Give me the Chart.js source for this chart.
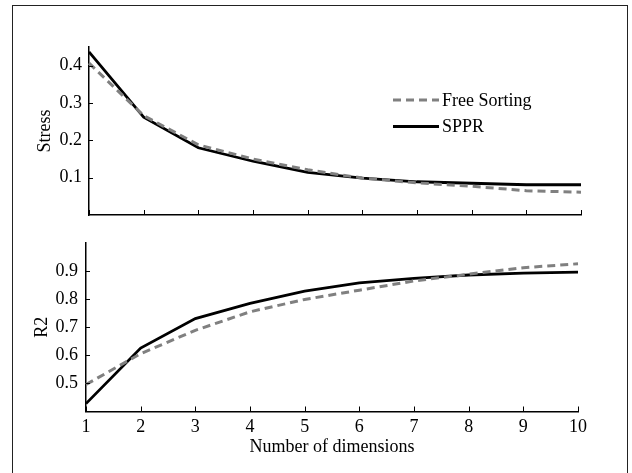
<!DOCTYPE html>
<html>
<head>
<meta charset="utf-8">
<script src="https://cdn.jsdelivr.net/npm/chart.js@4.4.1/dist/chart.umd.min.js"></script>
<style>
body { margin: 0; background: #fff; }
#wrap { position: relative; width: 632px; height: 473px; overflow: hidden; background: #fff; }
#frame { position: absolute; left: 12px; top: 5px; width: 614px; height: 480px; border: 1.5px solid #222; }
canvas { position: absolute; left: 0; }
#stressChart { top: 0; }
#r2Chart { top: 220px; }
</style>
</head>
<body>
<div id="wrap">
  <div id="frame"></div>
  <canvas id="stressChart" width="632" height="235"></canvas>
  <canvas id="r2Chart" width="632" height="253"></canvas>
</div>
<script>
// data
const dims = ['1', '2', '3', '4', '5', '6', '7', '8', '9', '10'];
const stressFree = [0.407, 0.266, 0.188, 0.150, 0.121, 0.099, 0.086, 0.077, 0.065, 0.061];
const stressSppr = [0.437, 0.262, 0.180, 0.144, 0.114, 0.099, 0.089, 0.085, 0.081, 0.081];
const r2Free = [0.496, 0.606, 0.689, 0.755, 0.799, 0.832, 0.865, 0.889, 0.912, 0.926];
const r2Sppr = [0.428, 0.626, 0.731, 0.785, 0.829, 0.858, 0.874, 0.886, 0.893, 0.896];
const stressTicks = [0.1, 0.2, 0.3, 0.4];
const r2Ticks = [0.5, 0.6, 0.7, 0.8, 0.9];

const serif = 'Liberation Serif';
const fontSize = 18;

// small tick marks pointing into the plot, like the original
const innerTicks = {
    id: 'innerTicks',
    afterDatasetsDraw(chart) {
        const ctx = chart.ctx;
        const xs = chart.scales.x;
        const ys = chart.scales.y;
        ctx.save();
        ctx.strokeStyle = '#000';
        ctx.lineWidth = 1;
        xs.ticks.forEach(function (t, i) {
            const px = Math.round(xs.getPixelForTick(i)) + 0.5;
            ctx.beginPath();
            ctx.moveTo(px, xs.top);
            ctx.lineTo(px, xs.top - 5);
            ctx.stroke();
        });
        ys.ticks.forEach(function (t) {
            const py = Math.round(ys.getPixelForValue(t.value)) + 0.5;
            ctx.beginPath();
            ctx.moveTo(ys.right, py);
            ctx.lineTo(ys.right + 4, py);
            ctx.stroke();
        });
        ctx.restore();
    }
};

// legend box inside the upper panel
const stressLegend = {
    id: 'stressLegend',
    afterDraw(chart) {
        const ctx = chart.ctx;
        const items = chart.data.datasets;
        ctx.save();
        ctx.font = fontSize + 'px "' + serif + '"';
        ctx.textBaseline = 'middle';
        ctx.fillStyle = '#000';
        items.forEach(function (ds, i) {
            const y = 100 + i * 26.5;
            ctx.strokeStyle = ds.borderColor;
            ctx.lineWidth = 3;
            ctx.setLineDash(ds.borderDash || []);
            ctx.beginPath();
            ctx.moveTo(393, y);
            ctx.lineTo(439, y);
            ctx.stroke();
            ctx.fillText(ds.label, 442, y + 1);
        });
        ctx.restore();
    }
};

function makeDatasets(free, sppr) {
    return [{
        label: 'Free Sorting',
        data: free,
        borderColor: '#808080',
        borderWidth: 3,
        borderDash: [8, 5],
        pointRadius: 0,
        tension: 0
    }, {
        label: 'SPPR',
        data: sppr,
        borderColor: '#000',
        borderWidth: 2.8,
        pointRadius: 0,
        tension: 0
    }];
}

function makeOptions(cfg) {
    return {
        responsive: false,
        animation: false,
        layout: { padding: { left: 0, right: cfg.right, top: cfg.top, bottom: 0 } },
        plugins: { legend: { display: false }, tooltip: { enabled: false } },
        scales: {
            x: {
                type: 'category',
                grid: { display: false, drawTicks: false },
                border: { display: true, color: '#000', width: 1.5 },
                ticks: {
                    display: cfg.showX,
                    color: '#000',
                    padding: 5,
                    maxRotation: 0,
                    autoSkip: false,
                    font: { family: serif, size: fontSize }
                },
                title: {
                    display: cfg.showX,
                    text: 'Number of dimensions',
                    color: '#000',
                    padding: { top: 0, bottom: 15 },
                    font: { family: serif, size: fontSize }
                },
                afterFit: function (s) { s.height = cfg.xHeight; }
            },
            y: {
                min: cfg.min,
                max: cfg.max,
                grid: { display: false, drawTicks: false },
                border: { display: true, color: '#000', width: 1.5 },
                afterBuildTicks: function (s) {
                    s.ticks = cfg.ticks.map(function (v) { return { value: v }; });
                },
                ticks: {
                    color: '#000',
                    padding: cfg.tickPad,
                    font: { family: serif, size: fontSize },
                    callback: function (v) { return Number(v).toFixed(1); }
                },
                title: {
                    display: true,
                    text: cfg.yTitle,
                    color: '#000',
                    padding: { top: cfg.titleOffset, bottom: 0 },
                    font: { family: serif, size: fontSize }
                },
                afterFit: function (s) { s.width = cfg.yWidth; }
            }
        }
    };
}

new Chart(document.getElementById('stressChart'), {
    type: 'line',
    data: { labels: dims, datasets: makeDatasets(stressFree, stressSppr) },
    options: makeOptions({
        right: 51, top: 47, xHeight: 20, showX: false,
        min: 0, max: 0.45, ticks: stressTicks, tickPad: 7,
        yTitle: 'Stress', titleOffset: 34, yWidth: 89
    }),
    plugins: [innerTicks, stressLegend]
});

new Chart(document.getElementById('r2Chart'), {
    type: 'line',
    data: { labels: dims, datasets: makeDatasets(r2Free, r2Sppr) },
    options: makeOptions({
        right: 54, top: 23, xHeight: 61.5, showX: true,
        min: 0.4, max: 1.0, ticks: r2Ticks, tickPad: 8,
        yTitle: 'R2', titleOffset: 31, yWidth: 86
    }),
    plugins: [innerTicks]
});
</script>
</body>
</html>
